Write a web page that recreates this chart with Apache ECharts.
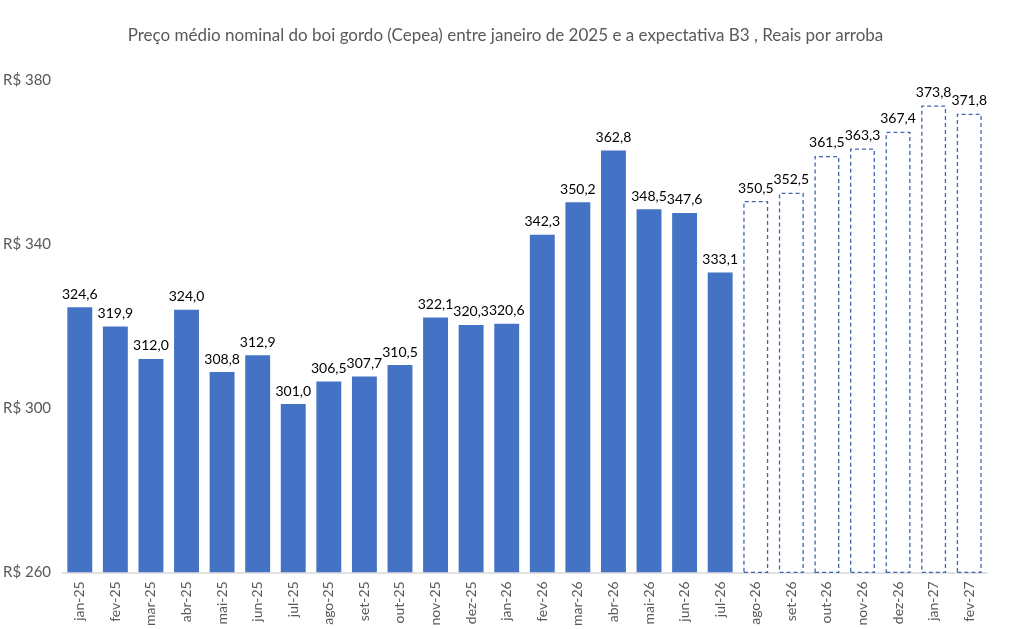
<!DOCTYPE html>
<html>
<head>
<meta charset="utf-8">
<script src="https://cdn.jsdelivr.net/npm/echarts@6/dist/echarts.min.js"></script>
<style>
  html, body { margin: 0; padding: 0; background: #fff; }
  #chart { width: 1011px; height: 629px; }
</style>
</head>
<body>
<div id="chart"></div>
<script>
var months = ['jan-25', 'fev-25', 'mar-25', 'abr-25', 'mai-25', 'jun-25', 'jul-25', 'ago-25', 'set-25',
    'out-25', 'nov-25', 'dez-25', 'jan-26', 'fev-26', 'mar-26', 'abr-26', 'mai-26', 'jun-26', 'jul-26',
    'ago-26', 'set-26', 'out-26', 'nov-26', 'dez-26', 'jan-27', 'fev-27'];
// Cepea
var cepea = [324.6, 319.9, 312.0, 324.0, 308.8, 312.9, 301.0, 306.5, 307.7, 310.5, 322.1, 320.3, 320.6,
    342.3, 350.2, 362.8, 348.5, 347.6, 333.1];
// expectativa B3
var b3 = [350.5, 352.5, 361.5, 363.3, 367.4, 373.8, 371.8];

var cepeaData = [], b3Data = [];
for (var i = 0; i < months.length; i++) {
    cepeaData.push(i < cepea.length ? cepea[i] : null);
    b3Data.push(i >= cepea.length ? b3[i - cepea.length] : null);
}

var fmt = function (p) { return p.value.toFixed(1).replace('.', ','); };

var myChart = echarts.init(document.getElementById('chart'));
var option = {
    animation: false,
    textStyle: { fontFamily: 'Lato' },
    title: {
        text: 'Preço médio nominal do boi gordo (Cepea) entre janeiro de 2025 e a expectativa B3 , Reais por arroba',
        left: 'center',
        top: 22,
        textStyle: { color: '#595959', fontSize: 17, fontWeight: 'normal', fontFamily: 'Lato' }
    },
    grid: { left: 62, right: 24, top: 80, bottom: 56, containLabel: false },
    xAxis: {
        type: 'category',
        data: months,
        axisLine: { lineStyle: { color: '#d9d9d9', width: 1.5 } },
        axisTick: { show: false },
        axisLabel: { rotate: 90, color: '#595959', fontSize: 14, interval: 0, margin: 9 }
    },
    yAxis: {
        type: 'value',
        min: 260,
        max: 380,
        interval: 40,
        splitLine: { show: false },
        axisLine: { show: false },
        axisTick: { show: false },
        axisLabel: {
            color: '#595959', fontSize: 15, align: 'left', margin: 59,
            formatter: function (v) { return 'R$ ' + v; }
        }
    },
    series: [
        {
            name: 'Cepea',
            type: 'bar',
            data: cepeaData,
            barWidth: '70%',
            barGap: '-100%',
            itemStyle: { color: '#4472C4' },
            label: { show: true, position: 'top', distance: 6, color: '#000', fontSize: 14, formatter: fmt }
        },
        {
            name: 'B3',
            type: 'bar',
            data: b3Data,
            barWidth: '70%',
            itemStyle: { color: '#fff', borderColor: '#3F66B0', borderWidth: 1.3, borderType: [4, 3] },
            label: { show: true, position: 'top', distance: 6, color: '#000', fontSize: 14, formatter: fmt }
        }
    ]
};
myChart.setOption(option);
window.addEventListener('resize', function () {
    myChart.resize();
});
</script>
</body>
</html>
